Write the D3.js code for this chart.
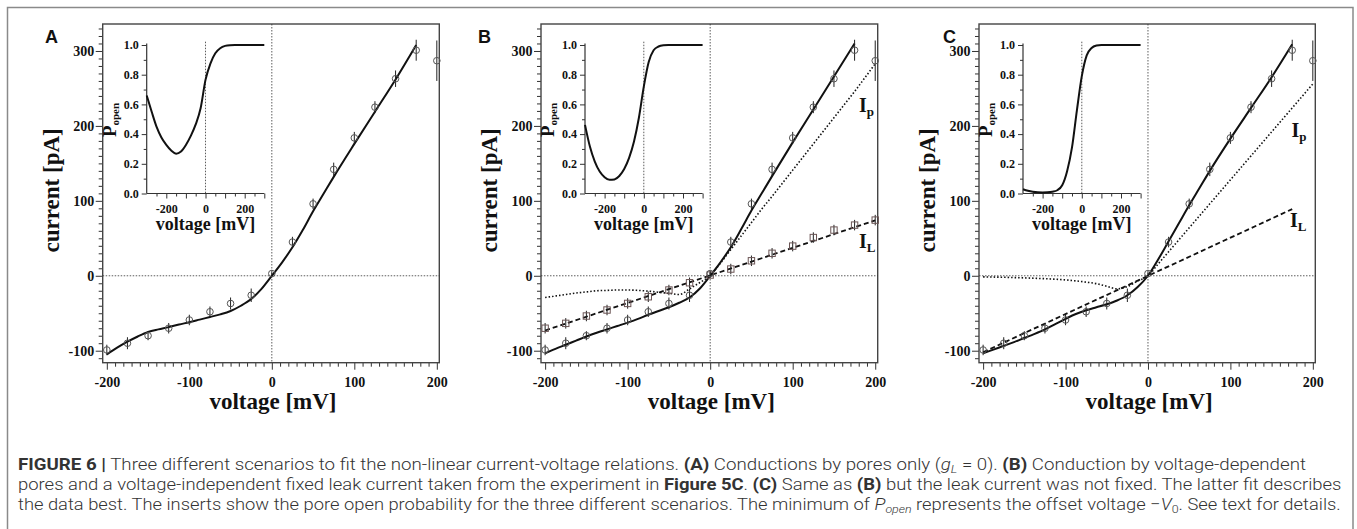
<!DOCTYPE html>
<html><head><meta charset="utf-8">
<script src="https://cdn.jsdelivr.net/npm/d3@7"></script>
<style>html,body{margin:0;padding:0;background:#fff;} svg{display:block}</style>
</head><body>
<svg id="fig" width="1357" height="529"></svg>
<script>
// ================= DATA =================
const voltages = [-200,-175,-150,-125,-100,-75,-50,-25,0,25,50,75,100,125,150,175,200];
const currentMeasured = [-99,-90,-80,-70,-59,-48,-37,-26,3,45,96,142,184,225,263,301,287];
const currentError   = [7,8,6,7,7,7,8,9,3,7,7,9,8,8,11,14,27];
const leakMeasured = [-70,-63.5,-53.7,-45.7,-36.9,-28,-19,-9.3,1,9,20,30,39.6,51,61,67.6,74.3];
const leakError    = [7,7,7,7,7,7,7,7,4,7,7,7,7,7,7,7,7];

const fitV = [-200,-187.5,-175,-162.5,-150,-137.5,-125,-112.5,-100,-87.5,-75,-62.5,-50,-37.5,-25,-12.5,0,12.5,25,37.5,50,62.5,75,100,125,150,175];
const totalA = [-105,-96,-88,-81,-75,-71.5,-68.5,-65,-62,-58.5,-55,-51.5,-47,-40,-31,-17.5,0,18,38,61,86,109,132,176,219,262,308];
const totalB = [-103.5,-97.5,-92,-86.5,-81,-76,-71.5,-67,-62.5,-57.5,-52,-47,-42,-36,-29,-17,0,18,38,62,87,110,133,178,222,266,310];
const totalC = [-103.5,-98.5,-93.5,-88.5,-83,-77.5,-71.5,-64.5,-57.5,-51,-46,-42,-38,-33,-26,-15,0,22,46,70,94,117,140,183,224,265,309];

const poreV = [-200,-187.5,-175,-162.5,-150,-137.5,-125,-112.5,-100,-87.5,-75,-62.5,-50,-37.5,-25,-12.5,0,12.5,25,37.5,50,62.5,75,100,125,150,175,200];
const poreB = [-29,-27,-25,-23,-21.5,-20,-19.5,-19,-19,-19.5,-20.5,-22,-23.5,-25,-17.5,-9,0,17,35,53,71,89,106,141,176,211,246,283];
const poreC = [-1.5,-1.7,-2,-2.4,-2.8,-3.3,-3.9,-4.6,-5.5,-6.8,-8.5,-10.5,-14,-17.5,-14.5,-7,0,16,32,48,64,80,96,128,160,192,224,256];

const leakFitVB = [-200,200];
const leakFitB  = [-73,74];
const leakFitVC = [-200,175];
const leakFitC  = [-102,89];

const insetV = [-300,-275,-250,-225,-200,-175,-150,-125,-100,-75,-50,-25,0,25,50,75,100,125,150,175,200,225,250,275,300];
const popenA = [0.66,0.552,0.45,0.377,0.327,0.289,0.268,0.283,0.327,0.388,0.465,0.574,0.765,0.875,0.944,0.978,0.994,0.999,1,1,1,1,1,1,1];
const popenB = [0.462,0.316,0.215,0.148,0.11,0.092,0.095,0.118,0.165,0.24,0.35,0.51,0.72,0.885,0.965,0.99,0.998,1,1,1,1,1,1,1,1];
const popenC = [0.029,0.019,0.012,0.008,0.007,0.008,0.012,0.022,0.055,0.15,0.31,0.56,0.79,0.93,0.98,0.996,1,1,1,1,1,1,1,1,1];

const yMajorTicks = [-100,0,100,200,300];
const xMajorTicks = [-200,-100,0,100,200];
const insetYTicks = [0,0.2,0.4,0.6,0.8,1.0];
const insetXLabels = [-200,0,200];

// ================= LAYOUT =================
const svg = d3.select('#fig');
const serif = '"Liberation Serif","Times New Roman",Times,serif';
const sans = '"Liberation Sans",Arial,Helvetica,sans-serif';
const ink = '#111';
const plain = d => String(d);   // hyphen minus as in the original

svg.append('rect').attr('x',7.5).attr('y',7.5).attr('width',1345.5).attr('height',540)
  .attr('fill','none').attr('stroke','#8a8a8a').attr('stroke-width',1.5);

const yTop = 24, yBot = 362.7;
const panels = [
  {letter:'A', lx:45,  left:102.7, right:439.3, total:totalA, pores:null, leak:null, leakData:false, popen:popenA, labels:[]},
  {letter:'B', lx:478, left:541,   right:877.7, total:totalB, pores:poreB, leak:[leakFitVB,leakFitB], leakData:true, popen:popenB,
    labels:[{s:'p', x:859, y:111.5},{s:'L', x:859, y:248}]},
  {letter:'C', lx:943, left:979,   right:1315.3, total:totalC, pores:poreC, leak:[leakFitVC,leakFitC], leakData:false, popen:popenC,
    labels:[{s:'p', x:1291.5, y:136.7},{s:'L', x:1290, y:226.7}]}
];

function styleTicks(g, size){
  g.selectAll('text').attr('font-family',serif).attr('font-weight','bold').attr('font-size',size).attr('fill',ink);
  g.selectAll('line').attr('stroke','#333').attr('stroke-width',1);
  g.select('.domain').remove();
}

panels.forEach(p=>{
  const g = svg.append('g');
  const x = d3.scaleLinear().domain([-205,203]).range([p.left,p.right]);
  const y = d3.scaleLinear().domain([-116,336]).range([yBot,yTop]);

  const yMinor = d3.range(-110,331,10).filter(v=>v%100!==0);
  g.append('g').attr('transform',`translate(${p.left},0)`)
    .call(d3.axisLeft(y).tickValues(yMinor).tickSize(4).tickFormat(''))
    .call(a=>styleTicks(a,14));
  g.append('g').attr('transform',`translate(${p.left},0)`)
    .call(d3.axisLeft(y).tickValues(yMajorTicks).tickSize(7).tickPadding(1.5).tickFormat(plain))
    .call(a=>styleTicks(a,14));
  const xMinor = d3.range(-200,201,10).filter(v=>v%100!==0);
  g.append('g').attr('transform',`translate(0,${yBot})`)
    .call(d3.axisBottom(x).tickValues(xMinor).tickSize(4).tickFormat(''))
    .call(a=>styleTicks(a,14));
  g.append('g').attr('transform',`translate(0,${yBot})`)
    .call(d3.axisBottom(x).tickValues(xMajorTicks).tickSize(7).tickPadding(7).tickFormat(plain))
    .call(a=>styleTicks(a,14));

  g.append('rect').attr('x',p.left).attr('y',yTop).attr('width',p.right-p.left).attr('height',yBot-yTop)
    .attr('fill','none').attr('stroke','#444').attr('stroke-width',1.4);

  g.append('line').attr('x1',p.left).attr('x2',p.right).attr('y1',y(0)).attr('y2',y(0))
    .attr('stroke','#333').attr('stroke-width',0.8).attr('stroke-dasharray','1.5,1.5');
  g.append('line').attr('x1',x(0)).attr('x2',x(0)).attr('y1',yTop).attr('y2',yBot)
    .attr('stroke','#333').attr('stroke-width',0.8).attr('stroke-dasharray','1.5,1.5');

  g.append('text').attr('transform',`translate(${p.left-44},${(yTop+yBot)/2-3}) rotate(-90)`)
    .attr('text-anchor','middle').attr('font-family',serif).attr('font-weight','bold').attr('font-size',23).attr('fill',ink)
    .text('current [pA]');
  g.append('text').attr('x',(p.left+p.right)/2+2).attr('y',408.5)
    .attr('text-anchor','middle').attr('font-family',serif).attr('font-weight','bold').attr('font-size',23).attr('fill',ink)
    .text('voltage [mV]');

  g.append('text').attr('x',p.lx).attr('y',43).attr('font-family',sans).attr('font-weight','bold')
    .attr('font-size',18).attr('fill',ink).text(p.letter);

  const line = d3.line().x(d=>x(d[0])).y(d=>y(d[1])).curve(d3.curveMonotoneX);

  if(p.leak){
    g.append('path').datum(d3.zip(p.leak[0],p.leak[1])).attr('d',line)
      .attr('fill','none').attr('stroke',ink).attr('stroke-width',1.8).attr('stroke-dasharray','5,3');
  }
  if(p.pores){
    g.append('path').datum(d3.zip(poreV,p.pores)).attr('d',line)
      .attr('fill','none').attr('stroke',ink).attr('stroke-width',1.6).attr('stroke-dasharray','1.5,2');
  }
  g.append('path').datum(d3.zip(fitV,p.total)).attr('d',line)
    .attr('fill','none').attr('stroke',ink).attr('stroke-width',2);

  if(p.leakData){
    const sq = g.append('g');
    voltages.forEach((v,i)=>{
      sq.append('line').attr('x1',x(v)).attr('x2',x(v)).attr('y1',y(leakMeasured[i]-leakError[i])).attr('y2',y(leakMeasured[i]+leakError[i]))
        .attr('stroke','#222').attr('stroke-width',1);
      sq.append('rect').attr('x',x(v)-3.2).attr('y',y(leakMeasured[i])-3.2).attr('width',6.4).attr('height',6.4)
        .attr('fill','none').attr('stroke','#6b5555').attr('stroke-width',1);
    });
  }
  const cg = g.append('g');
  voltages.forEach((v,i)=>{
    cg.append('line').attr('x1',x(v)).attr('x2',x(v)).attr('y1',y(currentMeasured[i]-currentError[i])).attr('y2',y(currentMeasured[i]+currentError[i]))
      .attr('stroke','#222').attr('stroke-width',1);
    cg.append('circle').attr('cx',x(v)).attr('cy',y(currentMeasured[i])).attr('r',3.3)
      .attr('fill','none').attr('stroke','#555').attr('stroke-width',1);
  });

  p.labels.forEach(l=>{
    const t = g.append('text').attr('x',l.x).attr('y',l.y).attr('font-family',serif).attr('font-weight','bold').attr('fill',ink);
    t.append('tspan').attr('font-size',20).text('I');
    t.append('tspan').attr('font-size',13).attr('dy',4).text(l.s);
  });

  // ---------- inset ----------
  const ig = g.append('g');
  const il = p.left+44, ir = p.left+161.6;
  const ix = d3.scaleLinear().domain([-300,300]).range([il,ir]);
  const iy = d3.scaleLinear().domain([0,1]).range([193.5,45]);
  ig.append('g').attr('transform',`translate(${il},0)`)
    .call(d3.axisLeft(iy).tickValues(d3.range(1,10,2).map(v=>v/10)).tickSize(3).tickFormat(''))
    .call(a=>styleTicks(a,12));
  ig.append('g').attr('transform',`translate(${il},0)`)
    .call(d3.axisLeft(iy).tickValues(insetYTicks).tickSize(5).tickPadding(3).tickFormat(d3.format('.1f')))
    .call(a=>styleTicks(a,12));
  ig.append('g').attr('transform',`translate(0,${iy(0)})`)
    .call(d3.axisBottom(ix).tickValues(d3.range(-250,301,50).filter(v=>v%100!==0)).tickSize(3).tickFormat(''))
    .call(a=>styleTicks(a,12));
  ig.append('g').attr('transform',`translate(0,${iy(0)})`)
    .call(d3.axisBottom(ix).tickValues([-200,-100,0,100,200,300]).tickSize(5).tickPadding(6)
      .tickFormat(d=>insetXLabels.includes(d)?plain(d):''))
    .call(a=>styleTicks(a,12));
  ig.append('line').attr('x1',il).attr('x2',il).attr('y1',iy(0)).attr('y2',iy(1.01)).attr('stroke','#333').attr('stroke-width',1.2);
  ig.append('line').attr('x1',il).attr('x2',ir).attr('y1',iy(0)).attr('y2',iy(0)).attr('stroke','#333').attr('stroke-width',1.2);
  ig.append('line').attr('x1',ix(0)).attr('x2',ix(0)).attr('y1',41.7).attr('y2',iy(0))
    .attr('stroke','#333').attr('stroke-width',0.8).attr('stroke-dasharray','1.5,1.5');
  const iline = d3.line().x(d=>ix(d[0])).y(d=>iy(d[1])).curve(d3.curveMonotoneX);
  ig.append('path').datum(d3.zip(insetV,p.popen)).attr('d',iline)
    .attr('fill','none').attr('stroke',ink).attr('stroke-width',2);
  const pl = ig.append('text').attr('transform',`translate(${il-31},${120}) rotate(-90)`)
    .attr('text-anchor','middle').attr('font-family',serif).attr('font-weight','bold').attr('fill',ink);
  pl.append('tspan').attr('font-size',19).text('P');
  pl.append('tspan').attr('font-size',11).attr('dy',3).text('open');
  ig.append('text').attr('x',(il+ir)/2).attr('y',229.5).attr('text-anchor','middle')
    .attr('font-family',serif).attr('font-weight','bold').attr('font-size',18).attr('fill',ink).text('voltage [mV]');
});

// ================= CAPTION =================
const captionLines = [
  {y:470, w:1289, segs:[
    {t:'FIGURE 6 |', b:1},{t:' Three different scenarios to fit the non-linear current-voltage relations. '},{t:'(A)', b:1},
    {t:' Conductions by pores only ('},{t:'g', i:1},{t:'L', i:1, sub:1},{t:' = 0). '},{t:'(B)', b:1},{t:' Conduction by voltage-dependent'}]},
  {y:490, w:1324, segs:[
    {t:'pores and a voltage-independent fixed leak current taken from the experiment in '},{t:'Figure 5C', b:1},{t:'. '},
    {t:'(C)', b:1},{t:' Same as '},{t:'(B)', b:1},{t:' but the leak current was not fixed. The latter fit describes'}]},
  {y:510, w:1324, segs:[
    {t:'the data best. The inserts show the pore open probability for the three different scenarios. The minimum of '},
    {t:'P', i:1},{t:'open', i:1, sub:1},{t:' represents the offset voltage \u2212'},{t:'V', i:1},{t:'0', sub:1},{t:'. See text for details.'}]}
];
captionLines.forEach(L=>{
  const t = svg.append('text').attr('x',0).attr('y',0).attr('font-family','Roboto,"Liberation Sans",Arial,sans-serif')
    .attr('font-size',17).attr('fill','#333').style('white-space','pre');
  let shifted = false;
  L.segs.forEach(s=>{
    const ts = t.append('tspan').text(s.t).attr('font-weight', s.b?700:300);
    if(s.i) ts.attr('font-style','italic');
    if(s.sub){ ts.attr('font-size',11.5).attr('dy',3); shifted = true; }
    else if(shifted){ ts.attr('dy',-3); shifted = false; }
  });
  const w = t.node().getComputedTextLength();
  t.attr('transform',`translate(18,${L.y}) scale(${L.w/w},1)`);
});
</script>
</body></html>
